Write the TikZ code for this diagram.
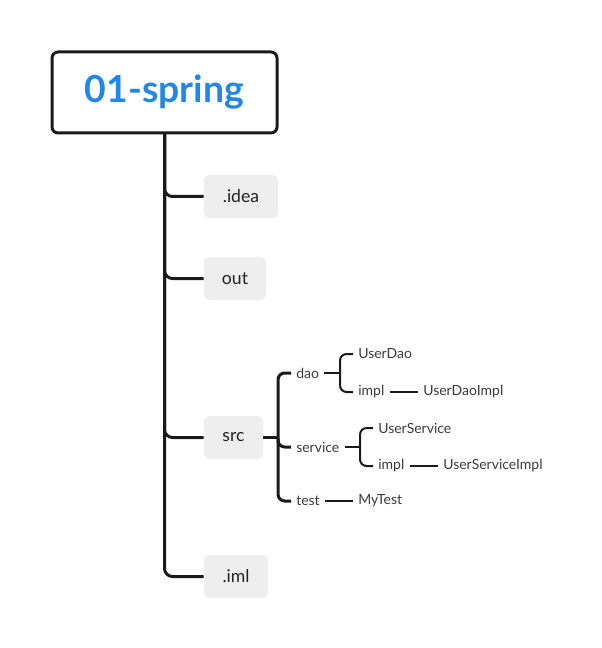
\documentclass[tikz,border=0pt]{standalone}
\usepackage{fontspec}
\setmainfont{Lato}
\begin{document}
\begin{tikzpicture}[x=0.75pt,y=-0.75pt,
  thickline/.style={line width=2.25pt,color=linec},
  thinline/.style={line width=1.5pt,color=linec},
  rootbox/.style={draw=linec,line width=2.25pt,rounded corners=4.5pt,fill=white,minimum width=168.75pt,minimum height=60.75pt,font=\fontsize{28}{32}\selectfont\bfseries,text=rootblue},
  filebox/.style={fill=boxgray,rounded corners=4pt,minimum height=32.25pt,font=\fontsize{13.2}{15}\selectfont,text=textc},
  leaf/.style={anchor=west,inner xsep=3.75pt,inner ysep=1pt,font=\fontsize{10.5}{12}\selectfont,text=leafc}]
\definecolor{linec}{HTML}{1A1A1A}
\definecolor{rootblue}{HTML}{2287E6}
\definecolor{boxgray}{HTML}{EEEEEE}
\definecolor{textc}{HTML}{222222}
\definecolor{leafc}{HTML}{3A3A3A}
\useasboundingbox (0,0) rectangle (601,648);

\node[rootbox] (root) at (164.5,92.5) {01-spring};
\node[filebox,minimum width=55.5pt] (idea) at (241,196.5) {.idea};
\node[filebox,minimum width=46.5pt] (out) at (235,278.5) {out};
\node[filebox,minimum width=44.25pt] (src) at (233.5,437.5) {src};
\node[filebox,minimum width=48pt] (iml) at (236,576.5) {.iml};

\foreach \n in {idea,out,src,iml}
  \draw[thickline,rounded corners=6pt] (root.south) |- (\n.west);

% src children
\coordinate (b1) at (278,437.5);
\node[leaf] (dao) at (291,373) {dao};
\node[leaf] (service) at (291,447) {service};
\node[leaf] (test) at (291,501) {test};
\draw[thickline] (src.east) -- (b1);
\foreach \n in {dao,service,test}
  \draw[thickline,rounded corners=5pt] (b1) |- (\n.west);

% dao children
\coordinate (b2) at (340,373);
\node[leaf] (userdao) at (353,354) {UserDao};
\node[leaf] (daoimpl) at (353,392) {impl};
\node[leaf] (userdaoimpl) at (418,392) {UserDaoImpl};
\draw[thinline] (dao.east) -- (b2);
\foreach \n in {userdao,daoimpl}
  \draw[thinline,rounded corners=5pt] (b2) |- (\n.west);
\draw[thinline] (daoimpl.east) -- (userdaoimpl.west);

% service children
\coordinate (b3) at (360,447);
\node[leaf] (userservice) at (373,428) {UserService};
\node[leaf] (svcimpl) at (373,466) {impl};
\node[leaf] (userserviceimpl) at (438,466) {UserServiceImpl};
\draw[thinline] (service.east) -- (b3);
\foreach \n in {userservice,svcimpl}
  \draw[thinline,rounded corners=5pt] (b3) |- (\n.west);
\draw[thinline] (svcimpl.east) -- (userserviceimpl.west);

% test child
\node[leaf] (mytest) at (353,501) {MyTest};
\draw[thinline] (test.east) -- (mytest.west);
\end{tikzpicture}
\end{document}
